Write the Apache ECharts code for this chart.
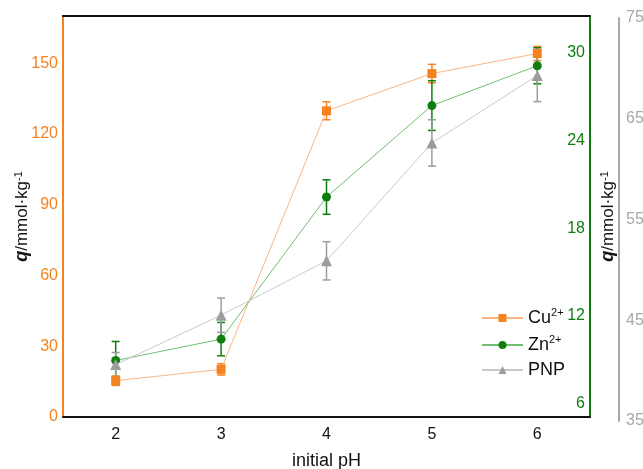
<!DOCTYPE html>
<html>
<head>
    <meta charset="UTF-8">
    <title>q vs initial pH</title>
    <script src="https://cdn.jsdelivr.net/npm/echarts@6/dist/echarts.min.js"></script>
    <style type="text/css">
        body{margin: 0;padding: 0;background: #fff;}
        #chart{width: 643px;height: 469px;}
    </style>
</head>
<body>
<div id="chart"></div>
<script type="text/javascript">
    // data
    var phLabels = ['2', '3', '4', '5', '6'];
    var cuQ   = [15.4, 20.2, 129.8, 145.6, 154.1];
    var cuErr = [2.0, 2.4, 3.8, 3.9, 3.0];
    var znQ   = [8.96, 10.42, 20.13, 26.38, 29.1];
    var znErr = [1.3, 1.14, 1.18, 1.7, 1.23];
    var pnpQ   = [40.6, 45.5, 50.9, 62.6, 69.3];
    var pnpErr = [1.2, 1.7, 1.9, 2.3, 2.6];
    var leftTicks  = [0, 30, 60, 90, 120, 150];
    var greenTicks = [6, 12, 18, 24, 30];
    var grayTicks  = [35, 45, 55, 65, 75];

    var ORANGE = '#f5821f', ORANGE_L = '#fbb584';
    var GREEN = '#0e7f0e', GREEN_L = '#72bd72';
    var GRAY = '#9c9c9c', GRAY_L = '#c9c9c9', GRAY_AX = '#a8a8a8';
    var SANS = "'Liberation Sans', Arial, sans-serif";

    function errData(vals, errs) {
        return vals.map(function (v, i) { return [i, v, errs[i]]; });
    }

    function errRender(color) {
        return function (params, api) {
            var x = api.value(0), y = api.value(1), e = api.value(2);
            var hi = api.coord([x, y + e]);
            var lo = api.coord([x, y - e]);
            var w = 4;
            var st = {stroke: color, lineWidth: 1.5};
            return {
                type: 'group',
                children: [
                    {type: 'line', shape: {x1: hi[0], y1: hi[1], x2: lo[0], y2: lo[1]}, style: st},
                    {type: 'line', shape: {x1: hi[0] - w, y1: hi[1], x2: hi[0] + w, y2: hi[1]}, style: st},
                    {type: 'line', shape: {x1: lo[0] - w, y1: lo[1], x2: lo[0] + w, y2: lo[1]}, style: st}
                ]
            };
        };
    }

    var nameRich = {
        q: {fontFamily: SANS, fontSize: 18, fontWeight: 'bold', fontStyle: 'italic', color: '#111'},
        n: {fontFamily: SANS, fontSize: 17, color: '#111'},
        s: {fontFamily: SANS, fontSize: 11, color: '#111', verticalAlign: 'top', lineHeight: 8}
    };
    var axisName = '{q|q}{n|/mmol·kg}{s|-1}';

    var chart = echarts.init(document.getElementById('chart'));
    chart.setOption({
        animation: false,
        grid: [
            {left: 63, right: 53, top: 16, bottom: 52, outerBoundsMode: 'none'},
            {left: 63, right: 53, top: 18, bottom: 48, outerBoundsMode: 'none'}
        ],
        legend: {
            data: ['Cu2+', 'Zn2+', 'PNP'],
            orient: 'vertical',
            left: 476,
            top: 302,
            itemWidth: 41,
            itemHeight: 10,
            itemGap: 7,
            formatter: function (name) {
                if (name.slice(-2) === '2+') {
                    return '{b|' + name.slice(0, -2) + '}{s|2+}';
                }
                return '{b|' + name + '}';
            },
            textStyle: {
                color: '#111',
                rich: {
                    b: {fontFamily: SANS, fontSize: 18, color: '#111', lineHeight: 22},
                    s: {fontFamily: SANS, fontSize: 11, color: '#111', verticalAlign: 'top', lineHeight: 8}
                }
            }
        },
        xAxis: [
            {
                type: 'category', gridIndex: 0, position: 'bottom', data: phLabels,
                axisLine: {lineStyle: {color: '#111', width: 2}},
                axisTick: {show: false},
                axisLabel: {color: '#111', fontFamily: SANS, fontSize: 16, margin: 10},
                name: 'initial pH', nameLocation: 'middle', nameGap: 35,
                nameTextStyle: {color: '#111', fontFamily: SANS, fontSize: 18}
            },
            {
                type: 'category', gridIndex: 0, position: 'top', data: phLabels,
                axisLine: {lineStyle: {color: '#111', width: 2}},
                axisTick: {show: false}, axisLabel: {show: false}
            },
            {
                type: 'category', gridIndex: 1, data: phLabels, show: false
            }
        ],
        yAxis: [
            {
                type: 'value', gridIndex: 0, position: 'left', min: 0, max: 170,
                axisLine: {show: true, lineStyle: {color: ORANGE, width: 2}},
                axisTick: {show: false},
                splitLine: {show: false},
                axisLabel: {customValues: leftTicks, color: ORANGE, fontFamily: SANS, fontSize: 16, margin: 5},
                name: axisName, nameLocation: 'middle', nameRotate: 90, nameGap: 32,
                nameMoveOverlap: false,
                nameTextStyle: {rich: nameRich}
            },
            {
                type: 'value', gridIndex: 0, position: 'right', min: 5.1, max: 32.5,
                axisLine: {show: true, lineStyle: {color: GREEN, width: 2}},
                axisTick: {show: false},
                splitLine: {show: false},
                axisLabel: {customValues: greenTicks, inside: true, color: GREEN, fontFamily: SANS, fontSize: 16, margin: 5},
                name: axisName, nameLocation: 'middle', nameRotate: 90, nameGap: 9,
                nameMoveOverlap: false,
                nameTextStyle: {rich: nameRich}
            },
            {
                type: 'value', gridIndex: 1, position: 'right', offset: 29, min: 35, max: 75,
                axisLine: {show: true, lineStyle: {color: GRAY_AX, width: 2}},
                axisTick: {show: false},
                splitLine: {show: false},
                axisLabel: {customValues: grayTicks, color: GRAY_AX, fontFamily: SANS, fontSize: 16, margin: 7}
            }
        ],
        series: [
            {
                type: 'custom', name: 'cuErr', xAxisIndex: 0, yAxisIndex: 0, z: 1,
                renderItem: errRender(ORANGE), data: errData(cuQ, cuErr)
            },
            {
                type: 'custom', name: 'znErr', xAxisIndex: 0, yAxisIndex: 1, z: 1,
                renderItem: errRender(GREEN), data: errData(znQ, znErr)
            },
            {
                type: 'custom', name: 'pnpErr', xAxisIndex: 2, yAxisIndex: 2, z: 1,
                renderItem: errRender(GRAY), data: errData(pnpQ, pnpErr)
            },
            {
                type: 'line', name: 'Cu2+', xAxisIndex: 0, yAxisIndex: 0, z: 3,
                data: cuQ, symbol: 'rect', symbolSize: 9,
                itemStyle: {color: ORANGE},
                lineStyle: {color: ORANGE_L, width: 1}
            },
            {
                type: 'line', name: 'Zn2+', xAxisIndex: 0, yAxisIndex: 1, z: 4,
                data: znQ, symbol: 'circle', symbolSize: 9,
                itemStyle: {color: GREEN},
                lineStyle: {color: GREEN_L, width: 1}
            },
            {
                type: 'line', name: 'PNP', xAxisIndex: 2, yAxisIndex: 2, z: 5,
                data: pnpQ, symbol: 'triangle', symbolSize: 11,
                itemStyle: {color: GRAY},
                lineStyle: {color: GRAY_L, width: 1}
            }
        ]
    });
</script>
</body>
</html>
